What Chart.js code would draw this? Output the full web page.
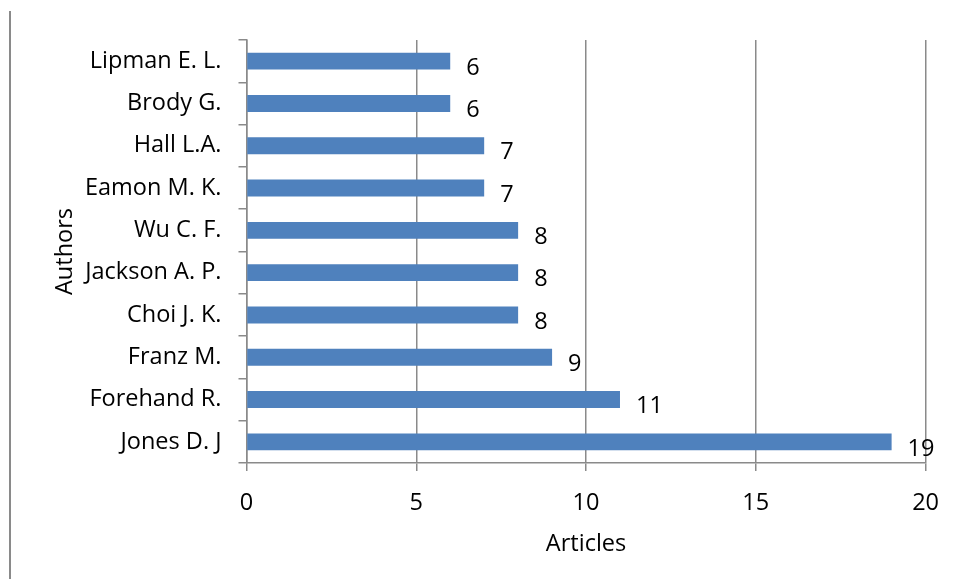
<!DOCTYPE html>
<html>
<head>
<meta charset="utf-8">
<script src="https://cdn.jsdelivr.net/npm/chart.js@4.4.1/dist/chart.umd.min.js"></script>
<style>
  html, body { margin: 0; padding: 0; background: #ffffff; }
  #chart { display: block; }
</style>
</head>
<body>
<canvas id="chart" width="957" height="579"></canvas>
<script>
// 著者別の論文数（上から順）
const authors = ['Lipman E. L.', 'Brody G.', 'Hall L.A.', 'Eamon M. K.', 'Wu C. F.',
                 'Jackson A. P.', 'Choi J. K.', 'Franz M.', 'Forehand R.', 'Jones D. J'];
const articles = [6, 6, 7, 7, 8, 8, 8, 9, 11, 19];
const xTicks = [0, 5, 10, 15, 20];

const barColor = '#4f81bd';
const lineColor = '#8a8a8a';
const fontFamily = '"Open Sans", "Noto Sans", sans-serif';
const fontSize = 23.5;

// 棒の右側に値を描くプラグイン
const valueLabels = {
    id: 'valueLabels',
    afterDatasetsDraw(chart) {
        const ctx = chart.ctx;
        const meta = chart.getDatasetMeta(0);
        ctx.save();
        ctx.font = fontSize + 'px ' + fontFamily;
        ctx.fillStyle = '#000000';
        ctx.textAlign = 'left';
        ctx.textBaseline = 'middle';
        meta.data.forEach(function (bar, i) {
            ctx.fillText(String(articles[i]), bar.x + 16, bar.y + 7);
        });
        ctx.restore();
    }
};

// 左端の縦線
const leftRule = {
    id: 'leftRule',
    beforeDraw(chart) {
        const ctx = chart.ctx;
        ctx.save();
        ctx.strokeStyle = lineColor;
        ctx.lineWidth = 2;
        ctx.beginPath();
        ctx.moveTo(10, 11);
        ctx.lineTo(10, chart.height);
        ctx.stroke();
        ctx.restore();
    }
};

new Chart(document.getElementById('chart'), {
    type: 'bar',
    data: {
        labels: authors,
        datasets: [{
            data: articles,
            backgroundColor: barColor,
            borderWidth: 0,
            barPercentage: 0.4,
            categoryPercentage: 1.0
        }]
    },
    options: {
        indexAxis: 'y',
        responsive: false,
        animation: false,
        layout: {
            padding: { top: 40, right: 30, left: 0, bottom: 0 }
        },
        plugins: {
            legend: { display: false },
            tooltip: { enabled: false }
        },
        scales: {
            x: {
                min: 0,
                max: 20,
                afterBuildTicks: function (scale) {
                    scale.ticks = xTicks.map(function (v) { return { value: v }; });
                },
                afterFit: function (scale) {
                    scale.height = 116;
                },
                grid: {
                    color: lineColor,
                    lineWidth: 1.5,
                    tickLength: 8
                },
                border: { color: lineColor, width: 1.5 },
                ticks: {
                    color: '#000000',
                    padding: 18,
                    maxRotation: 0,
                    font: { family: fontFamily, size: fontSize }
                },
                title: {
                    display: true,
                    text: 'Articles',
                    color: '#000000',
                    padding: { top: 0, bottom: 21 },
                    font: { family: fontFamily, size: fontSize }
                }
            },
            y: {
                afterFit: function (scale) {
                    scale.width = 246.5;
                },
                grid: {
                    offset: true,
                    drawOnChartArea: false,
                    color: lineColor,
                    lineWidth: 1.5,
                    tickLength: 8
                },
                border: { color: lineColor, width: 1.5 },
                ticks: {
                    color: '#000000',
                    padding: 17,
                    font: { family: fontFamily, size: fontSize }
                },
                title: {
                    display: true,
                    text: 'Authors',
                    color: '#000000',
                    padding: { top: 51, bottom: 0 },
                    font: { family: fontFamily, size: fontSize }
                }
            }
        }
    },
    plugins: [valueLabels, leftRule]
});
</script>
</body>
</html>
